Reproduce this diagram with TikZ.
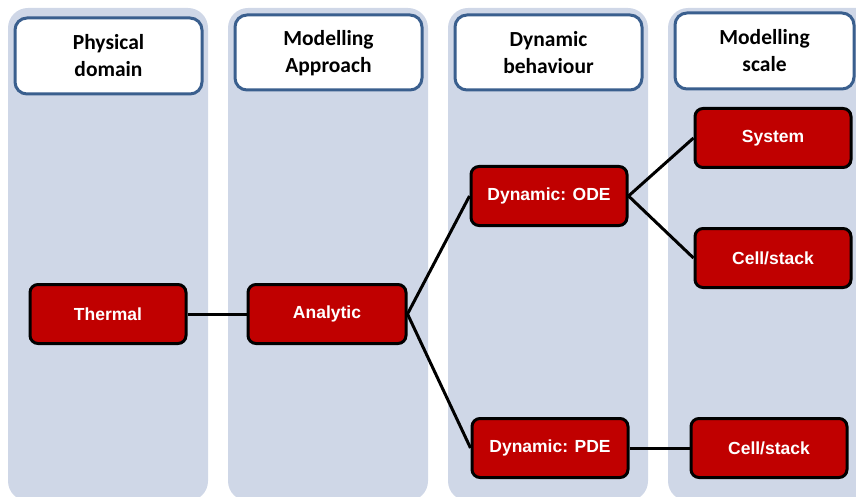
\documentclass[tikz,border=0pt]{standalone}
\usepackage{fontspec}
\setmainfont{Liberation Sans}
\newfontfamily\hdrfont{Carlito}
\definecolor{lanecol}{HTML}{CFD7E7}
\definecolor{hdrborder}{HTML}{3A5F8E}
\definecolor{boxred}{HTML}{C00000}
\tikzset{
  lane/.style={fill=lanecol, draw=none, rounded corners=20pt},
  hdr/.style={draw=hdrborder, line width=3pt, fill=white, rounded corners=12pt},
  hdrtext/.style={font=\hdrfont\bfseries\fontsize{21.5}{27}\selectfont, align=center, text=black},
  redbox/.style={draw=black, line width=3pt, fill=boxred, rounded corners=8pt,
    minimum width=156pt, minimum height=59pt, inner sep=0pt,
    text=white, font=\bfseries\fontsize{17.5}{20}\selectfont},
  conn/.style={draw=black, line width=3pt}
}
\begin{document}
\begin{tikzpicture}[x=1pt,y=-1pt]
\useasboundingbox (0,0) rectangle (856,497);
\clip (0,0) rectangle (856,497);
% lanes
\path[lane] (8,8) rectangle (208,501);
\path[lane] (228,8) rectangle (428,501);
\path[lane] (448,8) rectangle (648,501);
\path[lane] (668,8) rectangle (890,501);
% headers
\draw[hdr] (15,18) rectangle (202,94);
\draw[hdr] (235,15) rectangle (422,90);
\draw[hdr] (455,15) rectangle (642,90);
\draw[hdr] (675,13) rectangle (854,89);
\node[hdrtext] (h1) at (108.5,56) {Physical\\domain};
\node[hdrtext] (h2) at (328.5,53) {Modelling\\Approach};
\node[hdrtext] (h3) at (548.5,53) {Dynamic\\behaviour};
\node[hdrtext] (h4) at (764.5,51) {Modelling\\scale};
% red boxes
\node[redbox] (thermal) at (108,314) {Thermal};
\node[redbox, minimum width=158pt] (analytic) at (327,314) {Analytic};
\node[redbox] (ode) at (549,196) {Dynamic: ODE};
\node[redbox] (pde) at (550,448) {Dynamic: PDE};
\node[redbox] (system) at (773,138) {System};
\node[redbox] (cell1) at (773,258) {Cell/stack};
\node[redbox] (cell2) at (769,448) {Cell/stack};
% connectors
\draw[conn] (thermal.east) -- (analytic.west);
\draw[conn] (analytic.east) -- (ode.west);
\draw[conn] (analytic.east) -- (pde.west);
\draw[conn] (ode.east) -- (system.west);
\draw[conn] (ode.east) -- (cell1.west);
\draw[conn] (pde.east) -- (cell2.west);
\end{tikzpicture}
\end{document}
